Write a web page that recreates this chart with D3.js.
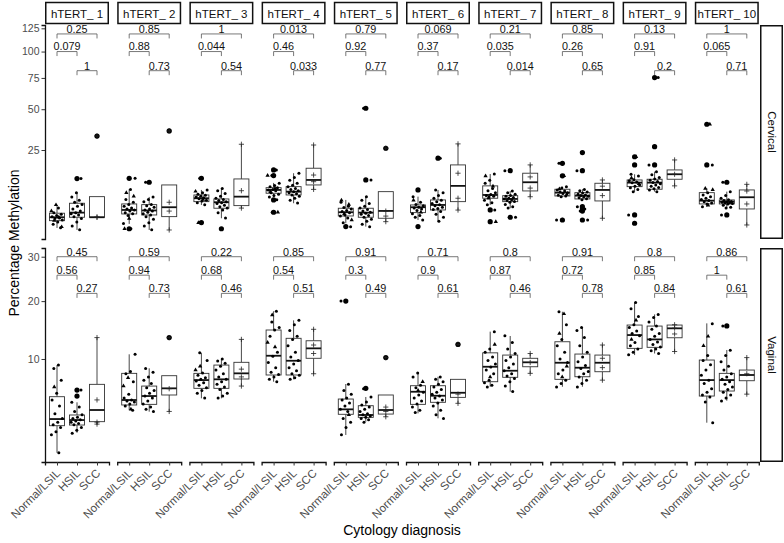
<!DOCTYPE html>
<html><head><meta charset="utf-8">
<script src="https://cdn.jsdelivr.net/npm/d3@7"></script>
<style>body{margin:0;background:#fff}svg{display:block}text{font-family:"Liberation Sans",Arial,sans-serif}</style>
</head><body><svg id="c" width="784" height="543"></svg>
<script>
const genes = ["hTERT_ 1","hTERT_ 2","hTERT_ 3","hTERT_ 4","hTERT_ 5","hTERT_ 6","hTERT_ 7","hTERT_ 8","hTERT_ 9","hTERT_ 10"];
const groups = ["Normal/LSIL","HSIL","SCC"];
const siteNames = ["Cervical","Vaginal"];
const cervicalTicks = [25,50,75,100,125];
const vaginalTicks = [10,20,30];
const cervicalDomain = [0.23,128.8];
const vaginalDomain = [0.69,32.2];
const comparisons = [[0,2],[0,1],[1,2]];
const cervicalBracketLevels = [118.7,100,81.5];
const vaginalBracketLevels = [30,25.6,21.6];
// p-values per gene: [1 vs 3, 1 vs 2, 2 vs 3]
const cervicalP = [["0.25","0.079","1"],["0.85","0.88","0.73"],["1","0.044","0.54"],["0.013","0.46","0.033"],["0.79","0.92","0.77"],["0.069","0.37","0.17"],["0.21","0.035","0.014"],["0.85","0.26","0.65"],["0.13","0.91","0.2"],["1","0.065","0.71"]];
const vaginalP = [["0.45","0.56","0.27"],["0.59","0.94","0.73"],["0.22","0.68","0.46"],["0.85","0.54","0.51"],["0.91","0.3","0.49"],["0.71","0.9","0.61"],["0.8","0.87","0.46"],["0.91","0.72","0.78"],["0.8","0.85","0.84"],["0.86","1","0.61"]];
// box stats per gene per group: [lower whisker, q1, median, q3, upper whisker]
const cervicalStats = [
 [[1.08,1.99,2.51,3.2,4.88],[0.88,2.51,3.31,5.27,8.03],[2.51,2.51,2.51,6.92,6.92]],
 [[1.55,3.07,3.82,5.11,9.04],[0.88,2.89,3.72,4.95,6.84],[0.88,2.61,4.38,10.4,10.4]],
 [[4.88,5.65,6.5,7.38,8.83],[2.35,4.17,5.51,6.32,9.35],[4.17,4.73,6.92,12.46,28]],
 [[6.84,7.86,8.83,9.53,11.07],[5.27,7.38,8.32,9.85,14.6],[9.04,10.4,12.1,16.6,27.6]],
 [[1.64,2.72,3.38,4.17,6.07],[1.23,2.51,3.31,4.17,6.92],[1.85,2.35,3.63,8.32,8.32]],
 [[2.09,3.31,4.38,4.88,6.92],[1.85,3.82,4.88,6.07,8.83],[3.82,5.65,10.1,18,28.2]],
 [[4.88,6.5,7.38,10.1,14.3],[4.17,5.65,6.32,7.19,8.53],[6.92,8.53,11.3,14.6,18]],
 [[6.92,7.1,8.03,9.04,9.85],[6.07,6.32,7.19,8.03,9.04],[2.35,5.82,8.83,10.96,12.1]],
 [[8.32,9.85,11.17,12.1,14.2],[8.32,9.04,11.17,12.35,15.2],[10.1,12.35,14.2,15.9,20.2]],
 [[4.5,5.11,5.89,8.03,9.35],[4.17,5.11,5.65,6.07,8.32],[1.42,4.02,6.76,8.83,10.6]]
];
const vaginalStats = [
 [[1.08,2.73,3.25,5.33,9.15],[2.23,2.78,3.17,3.59,4.76],[2.83,3.04,4.03,6.7,13.3]],
 [[4.03,4.5,4.99,8.05,10.68],[3.88,4.56,5.4,6.5,8.71],[3.88,5.51,6.24,7.75,7.75]],
 [[5.16,6.24,7.21,8.05,10.9],[5.16,6.24,7.3,9.15,9.99],[6.54,7.34,8.05,9.53,13.0]],
 [[7.01,7.84,10.47,14.58,18.0],[7.3,7.84,9.75,13.18,16.3],[7.97,10.1,11.58,12.78,14.7]],
 [[2.08,3.65,4.09,5.09,6.74],[3.04,3.39,3.59,4.43,5.3],[3.44,3.67,4.03,5.51,5.51]],
 [[3.73,4.56,5.86,6.54,8.13],[3.31,4.76,5.43,6.54,7.62],[4.66,5.26,5.75,7.3,7.3]],
 [[6.42,7.01,8.92,10.9,14.3],[5.86,7.55,8.39,10.57,13.56],[8.05,8.92,9.53,10.1,10.8]],
 [[6.42,7.3,9.47,12.62,17.9],[6.42,7.62,8.79,10.72,14.97],[7.21,8.26,9.47,10.57,12.1]],
 [[10.57,11.58,13.72,15.45,19.75],[10.8,11.74,13.0,15.27,17.4],[11.07,13.27,14.87,15.45,15.45]],
 [[2.96,5.4,7.21,9.85,15.75],[4.92,5.94,7.21,8.05,11.33],[5.58,7.13,7.84,8.48,10.2]]
];
const cervicalOutliers = [
 [[],[12.6],[32.6]],
 [[12.7,1.0],[11.3],[35.6]],
 [[12.7,1.72],[1.0],[]],
 [[15.9,13.7,6.07,3.38],[],[]],
 [[1.23],[12.1,50.7],[25.9]],
 [[8.83,1.23],[21],[]],
 [[3.82,1.85],[15.6,2.51],[]],
 [[18.7,13.6,2.09],[23.7,15.6,4.5,4.0,3.6,2.09],[]],
 [[21.7,18,2.89,1.64],[75.3,26.7,18],[]],
 [[39.8,18],[11.3,2.89],[]]
];
const vaginalOutliers = [
 [[],[6.05,5.4],[]],
 [[],[],[13.3]],
 [[],[],[]],
 [[],[],[]],
 [[20.0],[6.24],[10.2]],
 [[],[],[12.2]],
 [[],[],[]],
 [[],[],[]],
 [[],[],[]],
 [[],[15.3],[]]
];
// individual samples (Normal & HSIL: dots, SCC: plus)
const cervicalPoints = [
 [[4.2,3.3,3.0,2.8,2.6,2.4,2.3,2.1,1.8,1.5,1.1],[12.6,8.0,6.8,6.0,5.5,5.0,4.6,4.0,3.6,3.3,3.1,2.9,2.6,2.3,1.8,1.3,0.9],[2.5,2.55,32.6]],
 [[12.7,9.0,6.2,5.5,5.0,4.6,4.2,4.0,3.8,3.6,3.3,3.1,2.8,1.6,1.0],[11.3,6.8,6.2,5.6,5.0,4.7,4.4,4.0,3.8,3.6,3.4,3.1,2.9,2.6,2.2,1.7,1.3,0.9],[5.5,3.6,0.88,35.6]],
 [[12.7,8.8,8.0,7.6,7.3,7.0,6.8,6.6,6.4,6.0,5.8,5.4,4.9,1.7],[9.3,8.6,7.8,7.0,6.5,6.2,5.9,5.6,5.4,5.2,4.8,4.5,4.2,3.8,3.3,2.4,1.0],[4.2,8.6,28]],
 [[15.9,13.7,11.0,10.2,9.8,9.5,9.0,8.8,8.6,8.0,7.6,7.2,6.8,6.1,3.4],[14.6,13.0,12.0,11.0,10.3,9.8,9.3,9.0,8.6,8.3,8.0,7.7,7.4,7.0,6.5,6.0,5.3],[27.6,13.9,11.5,9.0]],
 [[5.5,4.6,4.3,4.0,3.7,3.5,3.3,2.9,2.7,2.4,1.7,1.2,1.3],[50.7,12.1,6.9,6.0,5.2,4.6,4.2,3.9,3.6,3.4,3.2,3.0,2.8,2.5,2.2,1.9,1.5,1.2],[3.6,2.7,1.85,25.9]],
 [[8.8,6.9,5.5,5.0,4.7,4.4,4.2,4.0,3.7,3.1,2.8,2.5,2.1,1.2],[21,8.8,8.0,7.2,6.5,6.0,5.6,5.2,4.9,4.7,4.4,4.1,3.9,3.5,3.0,2.5,1.9],[28.2,14.6,6.5,3.8]],
 [[14.3,12.0,11.0,9.3,8.6,8.0,7.5,7.2,7.0,6.8,6.0,5.4,4.9,3.8,1.85],[15.6,8.5,8.0,7.6,7.2,7.0,6.7,6.5,6.3,6.1,5.9,5.7,5.5,5.0,4.5,4.2,2.5],[18,13.2,9.4,6.9]],
 [[18.7,9.8,9.4,8.8,8.5,8.2,8.0,7.8,7.3,7.1,6.9,2.1],[23.7,15.6,9.0,8.6,8.2,7.9,7.6,7.4,7.2,7.0,6.8,6.6,6.4,6.1,4.5,4.0,3.6,2.1],[12.1,10.0,7.2,2.35]],
 [[18,14.2,13.5,12.2,11.8,11.4,11.1,10.4,10.0,9.5,9.0,8.3,2.9],[75.3,26.7,18,15.2,14.0,13.0,12.4,12.0,11.6,11.2,10.8,10.4,10.0,9.6,9.2,8.8,8.3],[20.2,14.2,10.1]],
 [[18,8.0,7.4,6.9,6.5,6.2,5.9,5.6,5.3,5.1,4.5],[11.3,8.3,7.2,6.5,6.1,5.9,5.7,5.6,5.5,5.4,5.3,5.2,5.1,4.8,4.4,4.2,2.9],[10.6,8.5,5.1,1.42]]
];
// LSIL samples inside the Normal/LSIL group (triangles)
const cervicalLSIL = [[4.9,3.6,2.5,2.0,1.2],[8.0,7.0,2.3,1.0],[8.4,6.2,1.7],[13.7,9.2,8.3,3.4],[6.0,5.0,3.1,2.1],[6.0,3.4],[13.5,10.0,6.5,1.85],[13.6,9.1,7.5,2.1],[21.7,12.8,10.8,1.64],[39.8,9.3,8.9,4.8]];
const vaginalPoints = [
 [[9.15,8.7,7.2,5.7,5.0,4.4,3.7,3.3,3.0,2.8,2.6,2.3,2.1,1.08],[6.05,5.4,4.76,4.3,3.9,3.6,3.4,3.3,3.2,3.1,3.0,2.9,2.8,2.6,2.4,2.2],[13.3,5.0,3.0,2.85]],
 [[10.7,8.3,8.0,7.0,5.6,5.2,5.0,4.9,4.8,4.6,4.4,4.0],[8.7,8.2,7.6,7.2,6.8,6.3,6.0,5.7,5.4,5.2,4.9,4.6,4.3,4.1,3.9],[13.3,6.2,3.9]],
 [[10.9,9.8,8.1,7.8,7.5,7.3,7.1,6.9,6.6,6.3,6.0,5.7,5.2],[10.0,9.7,9.4,9.0,8.5,8.0,7.6,7.3,7.0,6.7,6.4,6.1,5.7,5.4,5.2],[13.0,8.6,7.6,6.5]],
 [[18.0,16.0,15.0,14.6,13.5,11.0,10.4,9.5,8.8,8.2,7.9,7.6,7.3,7.0],[16.3,15.5,14.5,13.5,13.0,12.0,11.0,10.3,9.8,9.3,8.8,8.4,8.0,7.8,7.5,7.3],[14.7,12.1,10.8,8.0]],
 [[20.0,6.7,6.0,5.6,5.2,5.0,4.7,4.4,4.1,3.9,3.3,3.0,2.6,2.1],[6.2,5.3,4.8,4.5,4.3,4.1,3.9,3.7,3.6,3.5,3.4,3.3,3.2,3.0],[10.2,4.3,3.9,3.44]],
 [[8.1,7.6,6.6,6.3,5.8,5.5,5.2,4.9,4.6,4.3,4.0,3.8],[7.6,7.3,7.0,6.7,6.4,6.1,5.8,5.6,5.4,5.2,5.0,4.7,4.4,4.0,3.6,3.3],[12.2,5.6,4.66]],
 [[14.3,11.5,11.0,10.3,9.8,9.3,8.9,8.5,8.0,7.2,6.9,6.6,6.4],[13.6,12.5,11.5,10.8,10.3,9.8,9.3,8.8,8.4,8.0,7.7,7.4,7.0,6.5,5.9],[10.8,9.5,8.05]],
 [[17.9,15.5,13.0,12.0,11.0,10.0,9.5,8.5,8.0,7.2,6.8,6.4],[15.0,14.5,13.3,12.0,11.0,10.3,9.6,9.1,8.7,8.3,8.0,7.6,7.2,6.8,6.4],[12.1,10.1,8.8,7.2]],
 [[19.7,18.5,17.0,15.5,15.0,14.4,14.0,13.6,12.5,12.0,11.5,11.0,10.6],[17.4,16.8,16.0,15.3,14.7,14.0,13.5,13.0,12.6,12.2,11.8,11.5,11.2,10.8],[15.5,14.9,13.9,11.1]],
 [[15.7,10.5,9.8,9.2,8.5,7.8,7.2,6.8,6.2,5.8,5.5,5.3,4.8,2.96],[15.3,11.3,10.5,9.6,9.0,8.5,8.0,7.6,7.3,7.0,6.7,6.4,6.1,5.8,5.5,5.2,4.9],[10.2,8.0,5.6]]
];
const vaginalLSIL = [[6.4],[7.5,6.5,4.1],[9.0,8.5],[17.3,12.5,11.8],[3.6],[7.0,6.0],[12.2,7.6],[17.5,14.0,9.0,7.6],[16.3,13.0],[13.5,12.0]];

// ---------- layout ----------
const svg = d3.select("#c");
const panelLeft = 45, panelPitch = 72.2, panelW = 64;
const rowsPx = [{top:25,bottom:239},{top:248,bottom:462}];
const sites = [
 {stats:cervicalStats,out:cervicalOutliers,pts:cervicalPoints,lsil:cervicalLSIL,p:cervicalP,lev:cervicalBracketLevels,dom:cervicalDomain,ticks:cervicalTicks},
 {stats:vaginalStats,out:vaginalOutliers,pts:vaginalPoints,lsil:vaginalLSIL,p:vaginalP,lev:vaginalBracketLevels,dom:vaginalDomain,ticks:vaginalTicks}
];
const ink = "#000", boxInk = "#333";
const jit = (i,g,k) => ((((i+1)*0.6180339 + g*0.371 + k*0.213) % 1) - 0.5) * 12;

sites.forEach((site, r) => {
  const rp = rowsPx[r];
  const y = d3.scaleSqrt().domain(site.dom).range([rp.bottom, rp.top]);
  genes.forEach((gene, g) => {
    const x0 = panelLeft + g*panelPitch;
    const x = d3.scalePoint().domain(groups).range([x0, x0+panelW]).padding(0.6);
    const pg = svg.append("g");
    groups.forEach((grp, k) => {
      const cx = x(grp), s = site.stats[g][k];
      pg.append("line").attr("x1",cx).attr("x2",cx).attr("y1",y(s[0])).attr("y2",y(s[1])).attr("stroke",boxInk).attr("stroke-width",0.9);
      pg.append("line").attr("x1",cx).attr("x2",cx).attr("y1",y(s[3])).attr("y2",y(s[4])).attr("stroke",boxInk).attr("stroke-width",0.9);
      pg.append("rect").attr("x",cx-7.5).attr("width",15).attr("y",y(s[3])).attr("height",Math.max(0.5,y(s[1])-y(s[3])))
        .attr("fill","#fff").attr("stroke",boxInk).attr("stroke-width",0.9);
      pg.append("line").attr("x1",cx-7.5).attr("x2",cx+7.5).attr("y1",y(s[2])).attr("y2",y(s[2])).attr("stroke","#111").attr("stroke-width",1.8);
      site.out[g][k].forEach(v => pg.append("circle").attr("cx",cx).attr("cy",y(v)).attr("r",2.6).attr("fill",ink));
    });
    groups.forEach((grp, k) => {
      const cx = x(grp);
      const list = site.pts[g][k].map(v => ({v, shape: k===2 ? "plus" : "dot"}));
      if (k===0) site.lsil[g].forEach(v => list.push({v, shape:"tri"}));
      list.forEach((d,i) => {
        const px = cx + jit(i,g,k), py = y(d.v);
        if (d.shape==="dot") pg.append("circle").attr("cx",px).attr("cy",py).attr("r",1.5).attr("fill",ink);
        else if (d.shape==="tri") pg.append("path").attr("d",d3.symbol(d3.symbolTriangle,8)()).attr("transform",`translate(${px},${py})`).attr("fill",ink);
        else pg.append("path").attr("d",`M${cx-2.6},${py}H${cx+2.6}M${cx},${py-2.6}V${py+2.6}`).attr("stroke","#222").attr("stroke-width",0.8).attr("fill","none");
      });
    });
    comparisons.forEach((c, j) => {
      const xa = x(groups[c[0]]), xb = x(groups[c[1]]), yy = y(site.lev[j]);
      pg.append("path").attr("d",`M${xa},${yy+4.5}V${yy}H${xb}V${yy+4.5}`).attr("fill","none").attr("stroke","#555").attr("stroke-width",0.8);
      pg.append("text").attr("x",(xa+xb)/2).attr("y",yy-1.2).attr("text-anchor","middle").attr("font-size",10.8).attr("fill","#111").text(site.p[g][j]);
    });
    if (r===0) {
      svg.append("rect").attr("x",x0+0.75).attr("y",2.5).attr("width",panelW-1.5).attr("height",21).attr("fill","#fff").attr("stroke","#111").attr("stroke-width",1.5);
      svg.append("text").attr("x",x0+panelW/2).attr("y",18).attr("text-anchor","middle").attr("font-size",11.5).attr("fill","#111").text(gene);
    }
    if (r===1) {
      const ax = svg.append("g").attr("transform",`translate(0,${rp.bottom})`).call(d3.axisBottom(x).tickSizeOuter(0).tickSize(3.5).tickFormat(""));
      ax.select(".domain").attr("stroke","#111").attr("stroke-width",1.3);
      ax.selectAll(".tick line").attr("stroke","#333").attr("stroke-width",1);
      groups.forEach(grp => {
        svg.append("text").attr("transform",`translate(${x(grp)+4},${rp.bottom+12})rotate(-45)`)
          .attr("text-anchor","end").attr("font-size",11.5).attr("fill","#4d4d4d").text(grp);
      });
    }
  });
  const ya = svg.append("g").attr("transform",`translate(${panelLeft},0)`).call(d3.axisLeft(y).tickValues(site.ticks).tickSizeOuter(0).tickSize(3.5).tickPadding(2));
  ya.select(".domain").attr("stroke","#111").attr("stroke-width",1.3);
  ya.selectAll(".tick line").attr("stroke","#333");
  ya.selectAll(".tick text").attr("font-size",10.5).attr("fill","#4d4d4d").attr("font-family",'"Liberation Sans",Arial,sans-serif');
  svg.append("rect").attr("x",760.75).attr("y",rp.top+0.75).attr("width",21.5).attr("height",rp.bottom-rp.top-1.5).attr("fill","#fff").attr("stroke","#111").attr("stroke-width",1.5);
  svg.append("text").attr("transform",`translate(767.5,${(rp.top+rp.bottom)/2})rotate(90)`).attr("text-anchor","middle").attr("font-size",11.5).attr("fill","#111").text(siteNames[r]);
});
svg.append("text").attr("x",402).attr("y",535).attr("text-anchor","middle").attr("font-size",14).attr("fill","#000").text("Cytology diagnosis");
svg.append("text").attr("transform","translate(19,243)rotate(-90)").attr("text-anchor","middle").attr("font-size",14).attr("fill","#000").text("Percentage Methylation");
</script></body></html>
